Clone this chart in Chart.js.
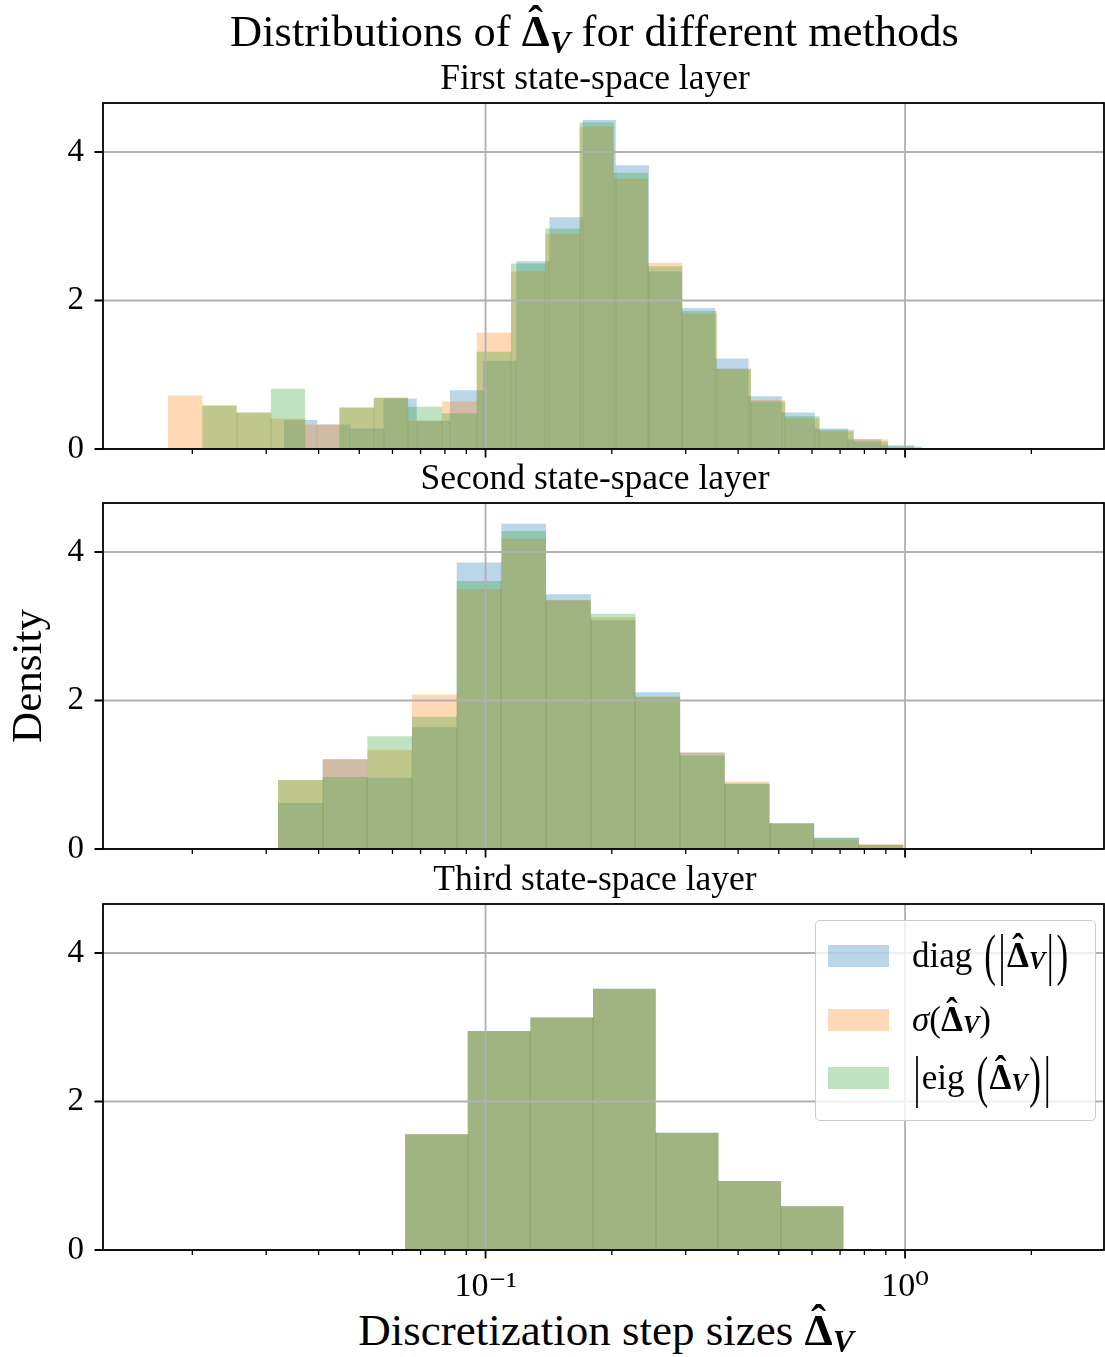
<!DOCTYPE html>
<html>
<head>
<meta charset="utf-8">
<script src="https://cdn.jsdelivr.net/npm/chart.js@4.4.1/dist/chart.umd.min.js"></script>
<style>
html,body{margin:0;padding:0;background:#fff;}
#fig{position:relative;width:1105px;height:1357px;overflow:hidden;background:#fff;font-family:"Liberation Serif","DejaVu Serif",serif;color:#000;}
#fig canvas{position:absolute;left:0;}
.txt{position:absolute;white-space:nowrap;line-height:1;text-align:center;}
.acc{position:relative;display:inline-block;font-weight:bold;}
.hat{position:absolute;left:0;right:0;text-align:center;top:-0.22em;font-weight:bold;}
.sub{font-weight:bold;font-style:italic;font-size:0.7em;position:relative;top:0.22em;}
.dl{display:inline-block;transform:scaleY(1.6);margin:0 0.04em;}
#legend{position:absolute;left:815px;top:920px;width:281px;height:201px;box-sizing:border-box;border:1.6px solid #cccccc;border-radius:5px;background:rgba(255,255,255,0.8);}
.patch{position:absolute;left:12px;width:61px;height:22px;}
.lab{position:absolute;left:96px;height:60px;display:flex;align-items:center;font-size:35px;white-space:nowrap;}
.sp{display:inline-block;width:0.3em;}
</style>
</head>
<body>
<div id="fig">
  <canvas id="c1" width="1105" height="410" style="top:50px"></canvas>
  <canvas id="c2" width="1105" height="400" style="top:460px"></canvas>
  <canvas id="c3" width="1105" height="445" style="top:860px"></canvas>

  <div class="txt" style="left:0;width:1189px;top:8.7px;font-size:44.5px;">Distributions of <span class="acc">Δ<span class="hat">ˆ</span></span><span class="sub">V</span> for different methods</div>

  <div class="txt" id="t1" style="left:0;width:1190px;top:59.5px;font-size:35.5px;"></div>
  <div class="txt" id="t2" style="left:0;width:1190px;top:459.5px;font-size:35.5px;"></div>
  <div class="txt" id="t3" style="left:0;width:1190px;top:860.5px;font-size:35.5px;"></div>

  <div class="txt" style="left:0;width:1212px;top:1308.3px;font-size:45px;">Discretization step sizes <span class="acc">Δ<span class="hat">ˆ</span></span><span class="sub">V</span></div>

  <div id="legend">
    <div class="patch" style="top:24px;background:rgba(31,119,180,0.3)"></div>
    <div class="patch" style="top:88px;background:rgba(255,127,14,0.3)"></div>
    <div class="patch" style="top:146px;background:rgba(44,160,44,0.3)"></div>
    <div class="lab" style="top:5px">diag<span class="sp"></span><span class="dl">(</span><span class="dl">|</span><span class="acc">Δ<span class="hat">ˆ</span></span><span class="sub">V</span><span class="dl">|</span><span class="dl">)</span></div>
    <div class="lab" style="top:69px"><i>σ</i>(<span class="acc">Δ<span class="hat">ˆ</span></span><span class="sub">V</span>)</div>
    <div class="lab" style="top:127px"><span class="dl">|</span>eig<span class="sp"></span><span class="dl">(</span><span class="acc">Δ<span class="hat">ˆ</span></span><span class="sub">V</span><span class="dl">)</span><span class="dl">|</span></div>
  </div>
</div>

<script>
// ---------------- data ----------------
const panelTitles = ['First state-space layer', 'Second state-space layer', 'Third state-space layer'];
const seriesNames = ['diag(|Δ̂V|)', 'σ(Δ̂V)', '|eig(Δ̂V)|'];
const yLabel = 'Density';
const xTickValues = [0.1, 1];
const xTickLabels = ['10⁻¹', '10⁰'];
const yTickValues = [0, 2, 4];

// Layer 1: each method has its own log-spaced bins
const layer1DiagEdges = [0.03309, 0.03970, 0.04763, 0.05714, 0.06855, 0.08224, 0.09866, 0.1184, 0.1420, 0.1704, 0.2044, 0.2452, 0.2942, 0.3530, 0.4235, 0.5080, 0.6095, 0.7312, 0.8772, 1.052];
const layer1DiagDensity = [0.39, 0.33, 0.275, 0.68, 0.38, 0.79, 1.19, 2.53, 3.12, 4.43, 3.82, 2.39, 1.90, 1.22, 0.71, 0.49, 0.275, 0.13, 0.05];
const layer1SigmaEdges = [0.01750, 0.02113, 0.02551, 0.03079, 0.03715, 0.04484, 0.05414, 0.06536, 0.07889, 0.09524, 0.1150, 0.1388, 0.1675, 0.2021, 0.2440, 0.2945, 0.3555, 0.4291, 0.5179, 0.6252, 0.7546, 0.9110];
const layer1SigmaDensity = [0.72, 0.585, 0.49, 0.41, 0.33, 0.56, 0.69, 0.38, 0.64, 1.57, 2.39, 2.90, 4.34, 3.64, 2.51, 1.82, 1.08, 0.66, 0.41, 0.235, 0.13];
const layer1EigEdges = [0.02113, 0.02551, 0.03079, 0.03715, 0.04484, 0.05414, 0.06536, 0.07889, 0.09524, 0.1150, 0.1388, 0.1675, 0.2021, 0.2440, 0.2945, 0.3555, 0.4291, 0.5179, 0.6252, 0.7546, 0.9110, 1.0996];
const layer1EigDensity = [0.585, 0.49, 0.81, 0, 0.56, 0.69, 0.57, 0.48, 1.31, 2.50, 2.97, 4.40, 3.72, 2.46, 1.86, 1.08, 0.64, 0.44, 0.26, 0.10, 0.035];

// Layer 2: shared bins
const layer2Edges = [0.03201, 0.04091, 0.05228, 0.06681, 0.08537, 0.1091, 0.1394, 0.1782, 0.2277, 0.2910, 0.3718, 0.4752, 0.6072, 0.7760, 0.9916];
const layer2DiagDensity = [0.62, 1.21, 0.96, 1.64, 3.86, 4.38, 3.43, 3.08, 2.11, 1.30, 0.88, 0.345, 0.152, 0.054];
const layer2SigmaDensity = [0.93, 1.21, 1.33, 2.08, 3.50, 4.18, 3.35, 3.12, 2.05, 1.30, 0.91, 0.345, 0.125, 0.071];
const layer2EigDensity = [0.93, 0.97, 1.52, 1.78, 3.61, 4.28, 3.35, 3.17, 2.05, 1.26, 0.88, 0.35, 0.152, 0.054];

// Layer 3: shared bins, identical distributions
const layer3Edges = [0.06429, 0.09068, 0.1279, 0.1804, 0.2545, 0.3590, 0.5063, 0.7141];
const layer3DiagDensity = [1.56, 2.95, 3.13, 3.52, 1.58, 0.93, 0.59];
const layer3SigmaDensity = [1.56, 2.95, 3.13, 3.52, 1.58, 0.93, 0.59];
const layer3EigDensity = [1.56, 2.95, 3.13, 3.52, 1.58, 0.93, 0.59];

// ---------------- styles ----------------
const FONT = '"Liberation Serif", "DejaVu Serif", serif';
const seriesColors = ['rgba(31,119,180,0.3)', 'rgba(255,127,14,0.3)', 'rgba(44,160,44,0.3)'];
const seamColors = ['rgba(31,119,180,0.14)', 'rgba(255,127,14,0.14)', 'rgba(44,160,44,0.14)'];
const X_MIN = 0.01225, X_MAX = 2.98, Y_MAX = 4.66;

['t1', 't2', 't3'].forEach((id, i) => { document.getElementById(id).textContent = panelTitles[i]; });

function histPoints(edges, dens) {
  const pts = [{x: edges[0], y: 0}];
  for (let i = 0; i < dens.length; i++) {
    pts.push({x: edges[i], y: dens[i]});
    pts.push({x: edges[i + 1], y: dens[i]});
  }
  pts.push({x: edges[edges.length - 1], y: 0});
  return pts;
}

function minorTicks() {
  const out = [];
  for (let e = -2; e <= 0; e++) {
    for (let k = 2; k <= 9; k++) {
      const v = k * Math.pow(10, e);
      if (v > X_MIN && v < X_MAX) out.push(v);
    }
  }
  return out;
}

// faint seams where neighbouring bars of one histogram touch (as in the rasterised original)
const barSeams = {
  id: 'barSeams',
  afterDatasetDraw(chart, args) {
    const ds = chart.data.datasets[args.index];
    const {ctx, chartArea: a, scales: {x, y}} = chart;
    const e = ds.edgesRef, d = ds.densRef;
    ctx.save();
    ctx.beginPath();
    ctx.rect(a.left, a.top, a.right - a.left, a.bottom - a.top);
    ctx.clip();
    ctx.fillStyle = ds.seamColor;
    for (let i = 1; i < d.length; i++) {
      const h = Math.min(d[i - 1], d[i]);
      if (h <= 0) continue;
      const px = Math.round(x.getPixelForValue(e[i])) - 0.5;
      const top = y.getPixelForValue(h);
      ctx.fillRect(px, top, 1, y.getPixelForValue(0) - top);
    }
    ctx.restore();
  }
};

const mplAxes = {
  id: 'mplAxes',
  afterDatasetsDraw(chart) {
    const {ctx, chartArea: a, scales: {x, y}} = chart;
    ctx.save();
    // grid (drawn above the bars, as in matplotlib)
    ctx.strokeStyle = '#b0b0b0';
    ctx.lineWidth = 1.8;
    ctx.beginPath();
    xTickValues.forEach(v => { const px = x.getPixelForValue(v); ctx.moveTo(px, a.top); ctx.lineTo(px, a.bottom); });
    yTickValues.forEach(v => { const py = y.getPixelForValue(v); ctx.moveTo(a.left, py); ctx.lineTo(a.right, py); });
    ctx.stroke();
    // spines
    ctx.strokeStyle = '#000';
    ctx.lineWidth = 1.8;
    ctx.strokeRect(a.left, a.top, a.right - a.left, a.bottom - a.top);
    // major ticks
    ctx.lineWidth = 1.8;
    ctx.beginPath();
    xTickValues.forEach(v => { const px = x.getPixelForValue(v); ctx.moveTo(px, a.bottom); ctx.lineTo(px, a.bottom + 8.5); });
    yTickValues.forEach(v => { const py = y.getPixelForValue(v); ctx.moveTo(a.left, py); ctx.lineTo(a.left - 8.5, py); });
    ctx.stroke();
    // minor ticks
    ctx.lineWidth = 1.3;
    ctx.beginPath();
    minorTicks().forEach(v => { const px = x.getPixelForValue(v); ctx.moveTo(px, a.bottom); ctx.lineTo(px, a.bottom + 5); });
    ctx.stroke();
    ctx.restore();
  }
};

function makeChart(id, series, cfg) {
  const datasets = series.map((s, i) => ({
    label: seriesNames[i],
    data: histPoints(s.edges, s.dens),
    edgesRef: s.edges,
    densRef: s.dens,
    seamColor: seamColors[i],
    backgroundColor: seriesColors[i],
    borderColor: 'rgba(0,0,0,0)',
    borderWidth: 0,
    pointRadius: 0,
    tension: 0,
    fill: 'origin',
    order: 3 - i
  }));
  return new Chart(document.getElementById(id), {
    type: 'line',
    data: {datasets},
    options: {
      responsive: false,
      animation: false,
      devicePixelRatio: 1,
      events: [],
      layout: {padding: {top: cfg.padTop, right: 1, bottom: 0, left: 0}},
      plugins: {
        legend: {display: false},
        tooltip: {enabled: false},
        title: {display: false}
      },
      scales: {
        x: {
          type: 'logarithmic', min: X_MIN, max: X_MAX,
          afterBuildTicks: s => { s.ticks = xTickValues.map(v => ({value: v})); },
          grid: {display: false, drawTicks: false},
          border: {display: false},
          ticks: {
            display: cfg.xLabels, autoSkip: false, maxRotation: 0, color: '#000',
            padding: cfg.xPad || 0,
            font: {family: FONT, size: 34, lineHeight: 1},
            callback: v => { const k = xTickValues.indexOf(v); return k >= 0 ? xTickLabels[k] : ''; }
          },
          afterFit: s => { s.height = cfg.xHeight; s.paddingLeft = 0; s.paddingRight = 0; }
        },
        y: {
          type: 'linear', min: 0, max: Y_MAX,
          afterBuildTicks: s => { s.ticks = yTickValues.map(v => ({value: v})); },
          grid: {display: false, drawTicks: false},
          border: {display: false},
          ticks: {color: '#000', padding: 19, font: {family: FONT, size: 33, lineHeight: 1}},
          title: cfg.yTitle ? {display: true, text: yLabel, color: '#000', font: {family: FONT, size: 43, lineHeight: 1}, padding: {top: 8.5, bottom: 0}} : {display: false},
          afterFit: s => { s.width = 103; s.paddingTop = 0; s.paddingBottom = 0; }
        }
      }
    },
    plugins: [barSeams, mplAxes]
  });
}

makeChart('c1', [
  {edges: layer1DiagEdges, dens: layer1DiagDensity},
  {edges: layer1SigmaEdges, dens: layer1SigmaDensity},
  {edges: layer1EigEdges, dens: layer1EigDensity}
], {padTop: 53, xHeight: 11, xLabels: false});

makeChart('c2', [
  {edges: layer2Edges, dens: layer2DiagDensity},
  {edges: layer2Edges, dens: layer2SigmaDensity},
  {edges: layer2Edges, dens: layer2EigDensity}
], {padTop: 43, xHeight: 11, xLabels: false, yTitle: true});

makeChart('c3', [
  {edges: layer3Edges, dens: layer3DiagDensity},
  {edges: layer3Edges, dens: layer3SigmaDensity},
  {edges: layer3Edges, dens: layer3EigDensity}
], {padTop: 44, xHeight: 55, xLabels: true, xPad: 20});
</script>
</body>
</html>
